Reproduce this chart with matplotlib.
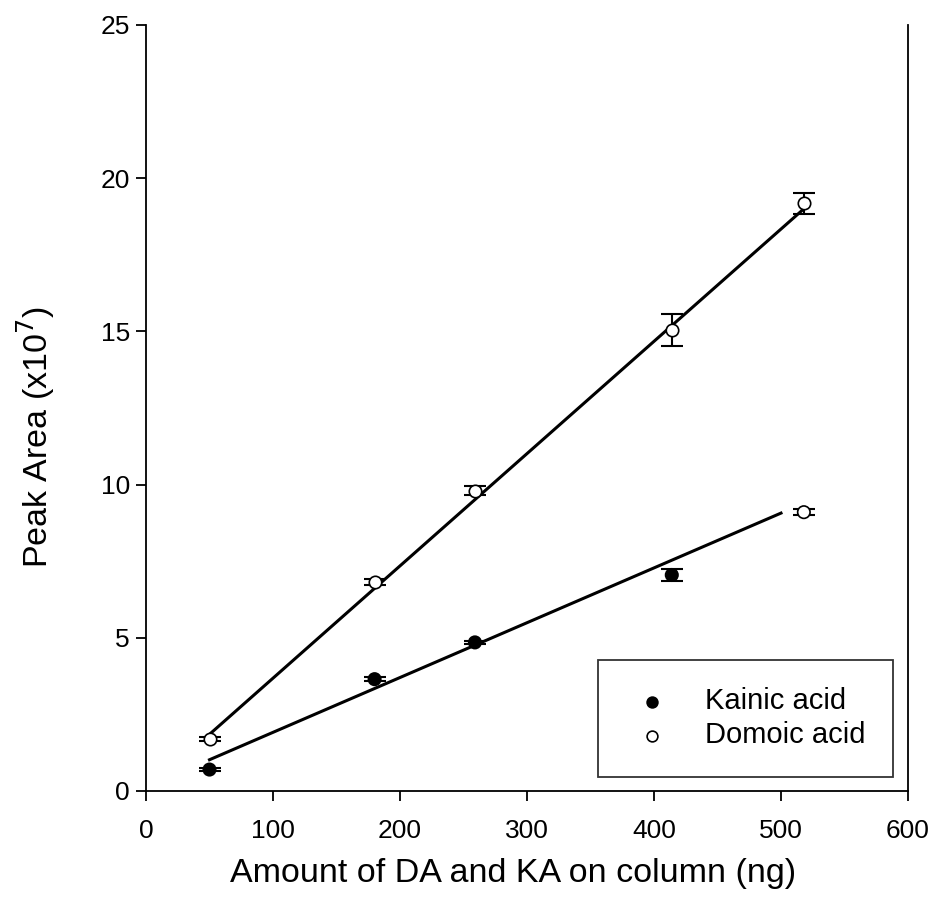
import matplotlib
matplotlib.use("Agg")
import matplotlib.pyplot as plt
import numpy as np

plt.rcParams['font.family'] = ['Liberation Sans', 'DejaVu Sans']

# Data
amount = [50, 180, 259, 414, 518]
ka_area = [0.70, 3.65, 4.85, 7.05, 9.10]
ka_err = [0.06, 0.06, 0.06, 0.18, 0.10]
da_area = [1.70, 6.82, 9.80, 15.05, 19.18]
da_err = [0.06, 0.10, 0.15, 0.52, 0.35]
ka_fit_x = [50, 500]
ka_fit_y = [1.02, 9.07]
da_fit_x = [50, 518]
da_fit_y = [1.85, 19.0]

xticks = [0, 100, 200, 300, 400, 500, 600]
yticks = [0, 5, 10, 15, 20, 25]

fig = plt.figure(figsize=(9.39, 9.19), dpi=100)
ax = fig.add_axes([146/939, 1-791/919, (908-146)/939, (791-25)/919])

ax.plot(ka_fit_x, ka_fit_y, color='black', lw=2.2, zorder=2)
ax.plot(da_fit_x, da_fit_y, color='black', lw=2.2, zorder=2)

ax.errorbar(amount, ka_area, yerr=ka_err, fmt='none', ecolor='black',
            elinewidth=1.5, capsize=8, capthick=1.5, zorder=3)
ax.errorbar(amount, da_area, yerr=da_err, fmt='none', ecolor='black',
            elinewidth=1.5, capsize=8, capthick=1.5, zorder=3)

ka_fc = ['black', 'black', 'black', 'black', 'white']
ax.scatter(amount, ka_area, s=80, c=ka_fc, edgecolors='black', linewidths=1.2, zorder=4)
ax.scatter(amount, da_area, s=80, c='white', edgecolors='black', linewidths=1.2, zorder=4)

h1 = ax.scatter([], [], s=60, c='black', edgecolors='black', linewidths=1.2)
h2 = ax.scatter([], [], s=60, c='white', edgecolors='black', linewidths=1.2)
leg = ax.legend([h1, h2], ['Kainic acid', 'Domoic acid'], loc='lower right',
                bbox_to_anchor=((893-146)/762, (791-777)/766), fontsize=21,
                frameon=True, fancybox=False, edgecolor='black',
                borderpad=0.95, handletextpad=0.9, labelspacing=0.2,
                borderaxespad=0, handlelength=1.8)
leg.get_frame().set_linewidth(1.3)

ax.set_xlim(0, 600)
ax.set_ylim(0, 25)
ax.set_xticks(xticks)
ax.set_yticks(yticks)
ax.tick_params(direction='out', length=7.5, width=1.3, labelsize=19)
ax.tick_params(axis='x', pad=13)
ax.tick_params(axis='y', pad=4)
ax.spines['top'].set_visible(False)
for s in ['left', 'bottom', 'right']:
    ax.spines[s].set_linewidth(1.3)
ax.tick_params(right=False)

ax.set_xlabel('Amount of DA and KA on column (ng)', fontsize=24.5)
ax.set_ylabel('Peak Area (x10$^7$)', fontsize=24.5)
ax.xaxis.set_label_coords(0.482, (791-858)/766)
ax.yaxis.set_label_coords((57-146)/762, 0.462)

fig.savefig('out.png', dpi=100)
